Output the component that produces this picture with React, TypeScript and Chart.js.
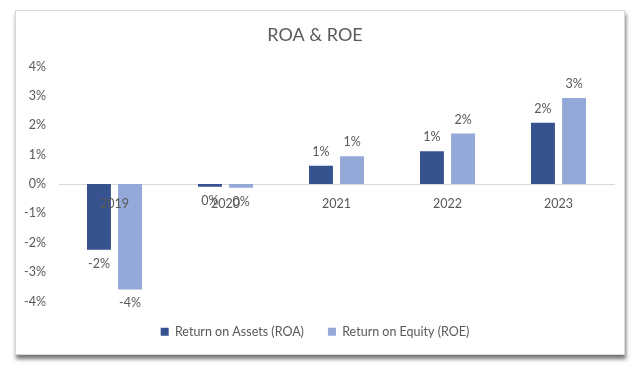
import React, { useEffect, useRef } from "react";
import { Chart, registerables } from "chart.js";

Chart.register(...registerables);

const categories = ["2019", "2020", "2021", "2022", "2023"];
const roaValues = [-2.24, -0.09, 0.62, 1.12, 2.09];
const roeValues = [-3.59, -0.13, 0.95, 1.72, 2.93];
const seriesNames = ["Return on Assets (ROA)", "Return on Equity (ROE)"];
const titleText = "ROA & ROE";

const FONT = "Lato, 'Open Sans', sans-serif";
const TEXT = "#595959";
const FS = 12.5;

const valueLabels = {
  id: "valueLabels",
  afterDatasetsDraw(chart: any) {
    const ctx = chart.ctx;
    ctx.save();
    ctx.font = `${FS}px ${FONT}`;
    ctx.fillStyle = TEXT;
    ctx.textAlign = "center";
    ctx.textBaseline = "middle";
    chart.data.datasets.forEach((ds: any, i: number) => {
      const meta = chart.getDatasetMeta(i);
      meta.data.forEach((bar: any, j: number) => {
        const v = ds.data[j];
        const r = Math.round(v);
        const txt = (r === 0 ? 0 : r) + "%";
        const y = v >= 0 ? bar.y - 14 : bar.y + 14;
        ctx.fillText(txt, bar.x, y);
      });
    });
    ctx.restore();
  },
};

export default function App() {
  const ref = useRef<HTMLCanvasElement>(null);
  useEffect(() => {
    if (!ref.current) return;
    const chart = new Chart(ref.current, {
      type: "bar",
      data: {
        labels: categories,
        datasets: [
          {
            label: seriesNames[0],
            data: roaValues,
            backgroundColor: "#36528f",
            categoryPercentage: 0.56,
            barPercentage: 0.77,
          },
          {
            label: seriesNames[1],
            data: roeValues,
            backgroundColor: "#94a9d8",
            categoryPercentage: 0.56,
            barPercentage: 0.77,
          },
        ],
      },
      options: {
        responsive: false,
        animation: false,
        layout: { padding: { left: 0, right: 10, top: 0, bottom: 6 } },
        plugins: {
          title: {
            display: true,
            text: titleText,
            color: TEXT,
            font: { family: FONT, size: 18, weight: "normal" },
            padding: { top: 13, bottom: 21 },
          },
          legend: {
            position: "bottom",
            labels: {
              boxWidth: 8,
              boxHeight: 8,
              color: TEXT,
              font: { family: FONT, size: FS },
              padding: 24,
            },
          },
          tooltip: { enabled: false },
        },
        scales: {
          x: {
            position: { y: 0 } as any,
            grid: { display: false, drawTicks: false },
            border: { color: "#d9d9d9", width: 1 },
            ticks: {
              z: 1,
              color: TEXT,
              font: { family: FONT, size: FS },
              padding: 12,
            },
          },
          y: {
            min: -4,
            max: 4,
            grid: { display: false, drawTicks: false },
            border: { display: false },
            ticks: {
              stepSize: 1,
              color: TEXT,
              font: { family: FONT, size: FS },
              padding: 13,
              callback: (v: any) => v + "%",
            },
            afterFit: (s: any) => {
              s.width = 43;
            },
          },
        },
      },
      plugins: [valueLabels],
    });
    return () => chart.destroy();
  }, []);

  return (
    <div
      style={{
        position: "fixed",
        left: 0,
        top: 0,
        width: 640,
        height: 375,
        background: "#fff",
      }}
    >
      <div
        style={{
          position: "absolute",
          left: 15,
          top: 10,
          width: 608,
          height: 343,
          border: "1px solid #d9d9d9",
          boxShadow: "1px 4px 4px rgba(0,0,0,0.55)",
          background: "#fff",
        }}
      >
        <canvas ref={ref} width={608} height={343} style={{ display: "block" }} />
      </div>
    </div>
  );
}
